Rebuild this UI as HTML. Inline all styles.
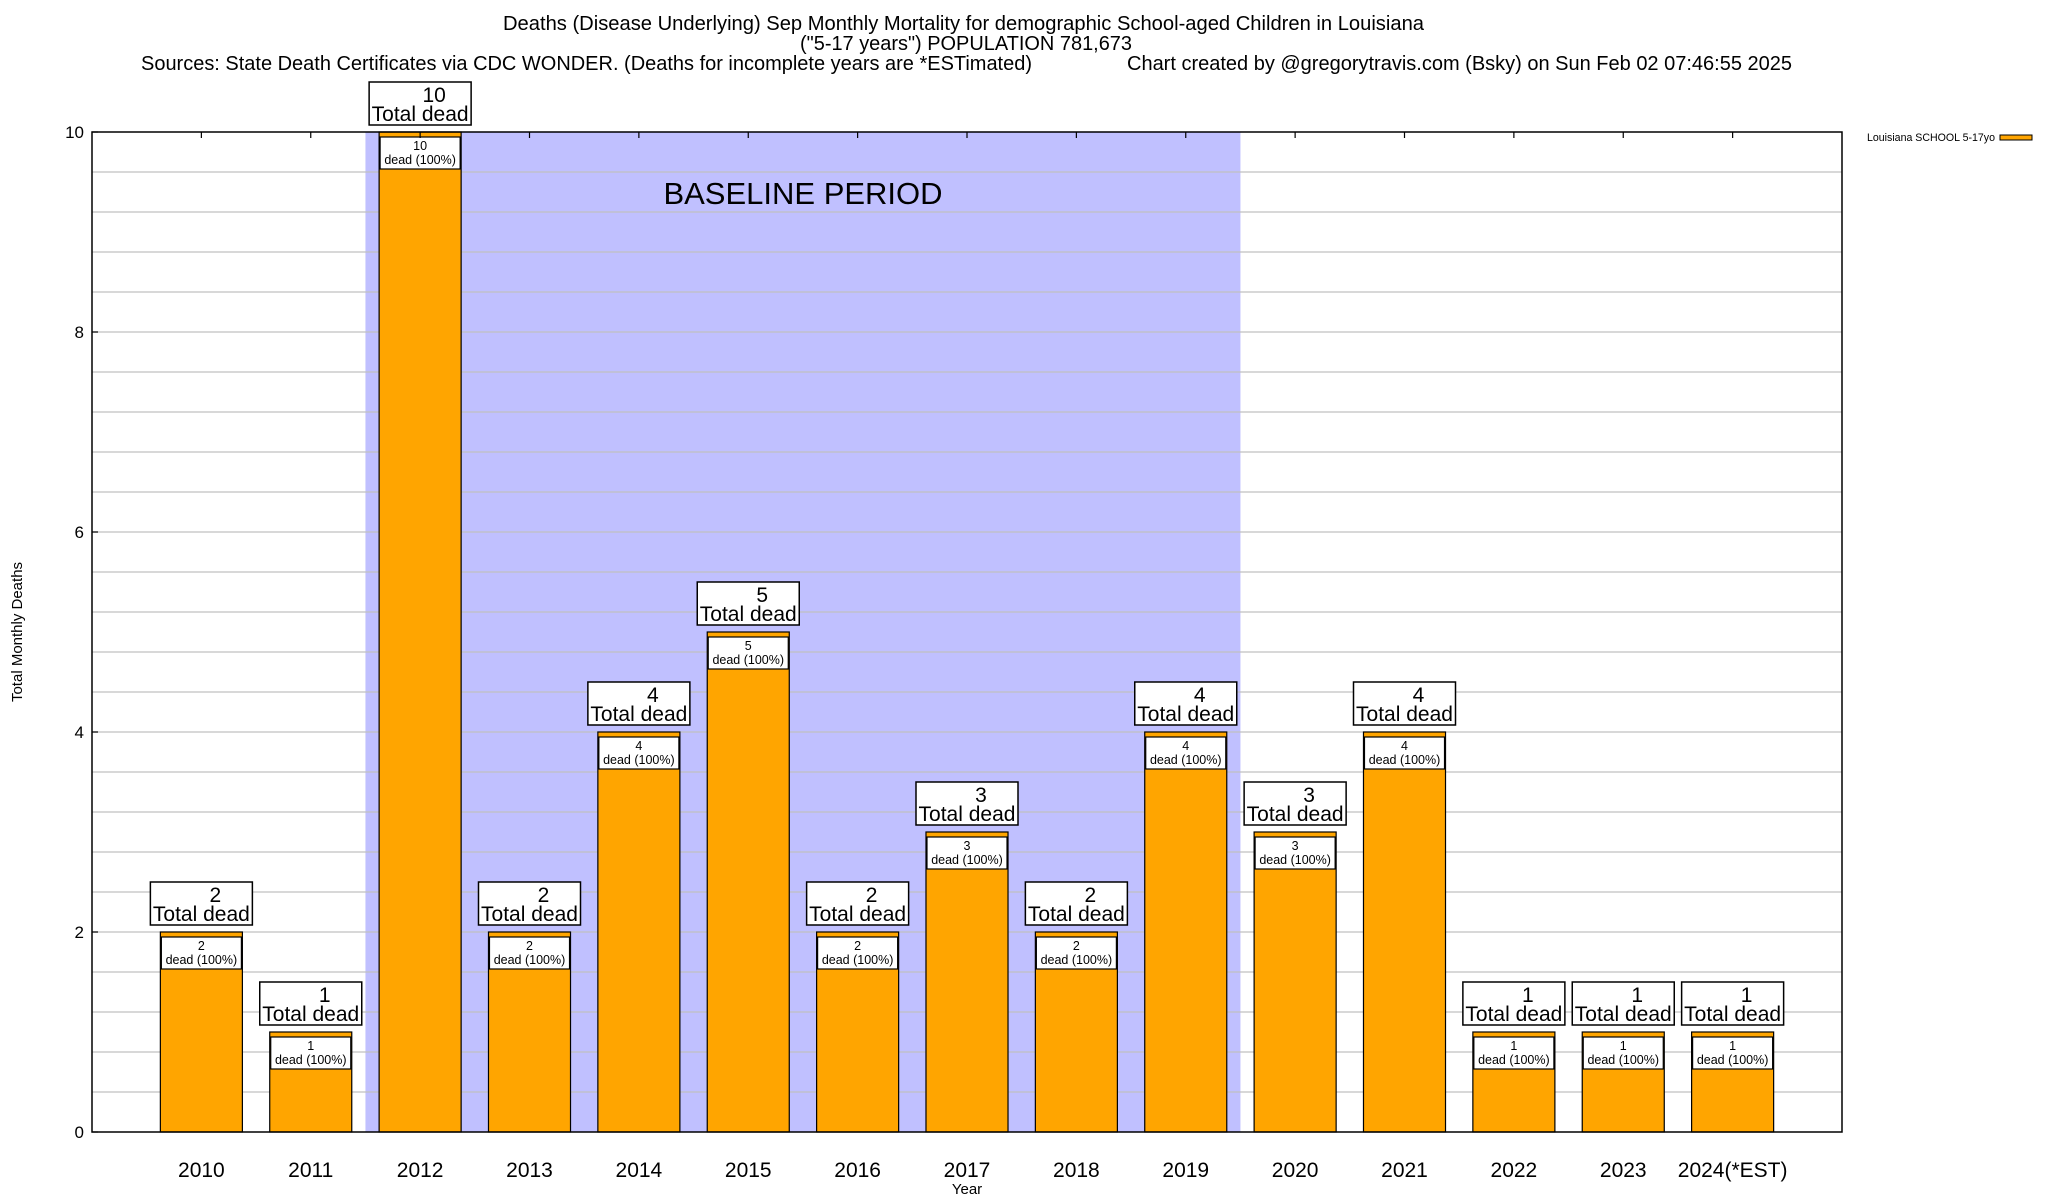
<!DOCTYPE html>
<html><head><meta charset="utf-8"><style>
html,body{margin:0;padding:0;background:#fff;}
svg{display:block;font-family:"Liberation Sans",Arial,sans-serif;}
</style></head><body>
<svg id="chart" width="2048" height="1200" viewBox="0 0 2048 1200" xmlns="http://www.w3.org/2000/svg">
<rect width="2048" height="1200" fill="#fff"/>
<g id="title" font-size="20" fill="#000">
<text x="503" y="30" textLength="921" lengthAdjust="spacingAndGlyphs">Deaths (Disease Underlying) Sep Monthly Mortality for demographic School-aged Children in Louisiana</text>
<text x="800" y="50" textLength="332" lengthAdjust="spacingAndGlyphs">("5-17 years") POPULATION 781,673</text>
<text x="141" y="70" textLength="891" lengthAdjust="spacingAndGlyphs">Sources: State Death Certificates via CDC WONDER. (Deaths for incomplete years are *ESTimated)</text>
<text x="1127" y="70" textLength="665" lengthAdjust="spacingAndGlyphs">Chart created by @gregorytravis.com (Bsky) on Sun Feb 02 07:46:55 2025</text>
</g>
<g id="plot"></g>
</svg>
<script>
const categories = ["2010","2011","2012","2013","2014","2015","2016","2017","2018","2019","2020","2021","2022","2023","2024(*EST)"];
const deaths = [2,1,10,2,4,5,2,3,2,4,3,4,1,1,1];
const yTicks = [0,2,4,6,8,10];
const baselineStart = 1.5, baselineEnd = 9.5;

const L=92,R=1842,T=132,B=1132;
const xMin=-1,xMax=15,yMin=0,yMax=10;
const xs=v=>L+(v-xMin)/(xMax-xMin)*(R-L);
const ys=v=>B-(v-yMin)/(yMax-yMin)*(B-T);
const NS="http://www.w3.org/2000/svg";
const g=document.getElementById('plot');
function mk(tag,attrs,parent){const e=document.createElementNS(NS,tag);for(const k in attrs)e.setAttribute(k,attrs[k]);(parent||g).appendChild(e);return e;}

const sh=mk('rect',{x:xs(baselineStart),y:T,width:xs(baselineEnd)-xs(baselineStart),height:B-T,fill:'#c0c0ff'});


for(let v=0.4;v<yMax-0.01;v+=0.4){
  const ln=mk('line',{x1:L,x2:R,y1:ys(v),y2:ys(v),stroke:'#c0c0c0','stroke-width':1.3});
  
  
}
const bt=mk('text',{x:803,y:204,'font-size':31,'text-anchor':'middle',fill:'#000'});
bt.textContent='BASELINE PERIOD';



const bw=0.75*(xs(1)-xs(0));
categories.forEach((c,i)=>{
  const cx=xs(i),v=deaths[i],y=ys(v);
  const bar=mk('rect',{x:cx-bw/2,y:y,width:bw,height:B-y,fill:'#ffa500',stroke:'#000','stroke-width':1.2});
  
  
  const ib=mk('rect',{x:cx-bw/2+1,y:y+5,width:bw-2,height:32,fill:'#fff',stroke:'#000','stroke-width':1.2});
  
  
  const t1=mk('text',{x:cx,y:y+18,'font-size':12.5,'text-anchor':'middle'});t1.textContent=v;
  
  
  const t2=mk('text',{x:cx,y:y+32,'font-size':12.5,'text-anchor':'middle'});t2.textContent='dead (100%)';
  
  
  const ob=mk('rect',{x:cx-51,y:y-50,width:102,height:43,fill:'#fff',stroke:'#000','stroke-width':1.5});
  
  
  const t3=mk('text',{x:cx+14,y:y-30,'font-size':21,'text-anchor':'middle'});t3.textContent=v;
  
  
  const t4=mk('text',{x:cx,y:y-11,'font-size':21,'text-anchor':'middle'});t4.textContent='Total dead';
  
  
  const xl=mk('text',{x:cx,y:1177,'font-size':21,'text-anchor':'middle'});xl.textContent=c;
  
  
  const tk=mk('line',{x1:cx,x2:cx,y1:T,y2:T+6,stroke:'#000','stroke-width':1.2});
  
  
});
const fr=mk('rect',{x:L,y:T,width:R-L,height:B-T,fill:'none',stroke:'#000','stroke-width':1.5});


yTicks.forEach(v=>{
  const t=mk('text',{x:L-8,y:ys(v)+6,'font-size':17,'text-anchor':'end'});t.textContent=v;
  
  
  const tk=mk('line',{x1:L,x2:L+6,y1:ys(v),y2:ys(v),stroke:'#000','stroke-width':1.2});
  
  
});
const yt=mk('text',{x:0,y:0,'font-size':15,'text-anchor':'middle',transform:'translate(22,632) rotate(-90)'});
yt.textContent='Total Monthly Deaths';


const xt=mk('text',{x:967,y:1194,'font-size':15,'text-anchor':'middle'});
xt.textContent='Year';


const lt=mk('text',{x:1867,y:141,'font-size':11,textLength:128,lengthAdjust:'spacingAndGlyphs'});
lt.textContent='Louisiana SCHOOL 5-17yo';


const ls=mk('rect',{x:2000,y:135,width:32,height:5,fill:'#ffa500',stroke:'#000','stroke-width':1});


</script>
</body></html>
